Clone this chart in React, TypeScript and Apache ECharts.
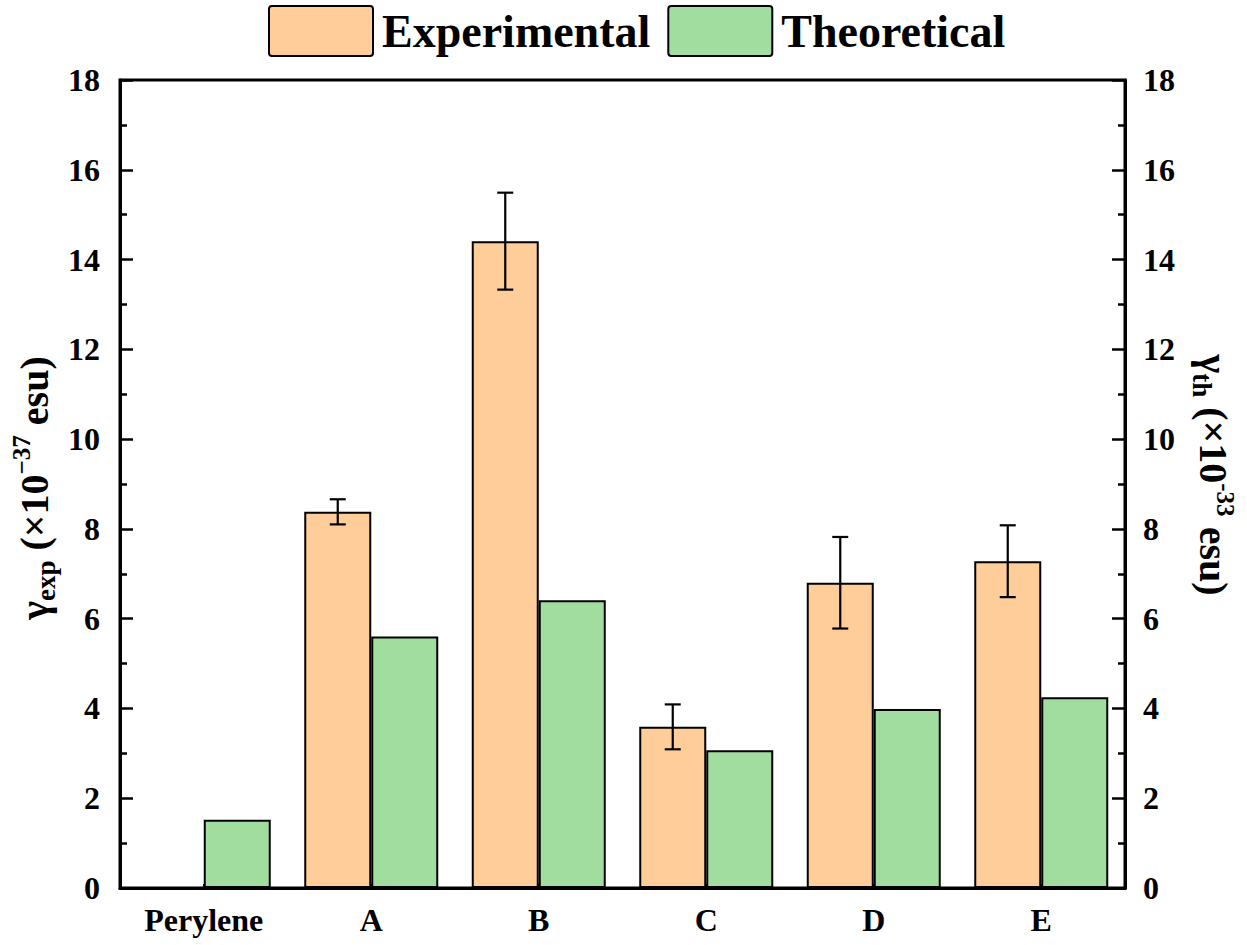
import React, { useEffect, useRef } from "react";
import * as echarts from "echarts";

const categories = ["Perylene", "A", "B", "C", "D", "E"];
const experimental = [null, 8.38, 14.41, 3.59, 6.8, 7.28];
const experimentalErr = [null, 0.28, 1.08, 0.5, 1.02, 0.8];
const theoretical = [1.52, 5.6, 6.41, 3.07, 3.99, 4.25];
const yTicks = { min: 0, max: 18, interval: 2 };

const FONT = "'Liberation Serif', 'Times New Roman', serif";

export default function App() {
  const ref = useRef<HTMLDivElement>(null);

  useEffect(() => {
    document.body.style.margin = "0";
    const chart = echarts.init(ref.current!, null, { renderer: "svg" });

    const errData = categories
      .map((_, i) =>
        experimental[i] == null || experimentalErr[i] == null
          ? null
          : [i, (experimental[i] as number) - (experimentalErr[i] as number), (experimental[i] as number) + (experimentalErr[i] as number)]
      )
      .filter((d) => d !== null);

    const yAxisCommon = (pos: "left" | "right") => ({
      type: "value",
      position: pos,
      min: yTicks.min,
      max: yTicks.max,
      interval: yTicks.interval,
      axisLine: { show: true, lineStyle: { color: "#000", width: 3 } },
      axisTick: { show: true, inside: true, length: 13, lineStyle: { color: "#000", width: 2.5 } },
      minorTick: { show: true, splitNumber: 2, length: 7, lineStyle: { color: "#000", width: 2.5 } },
      splitLine: { show: false },
      axisLabel: {
        color: "#000",
        fontFamily: FONT,
        fontWeight: "bold",
        fontSize: 32,
        margin: pos === "left" ? 20 : 18,
      },
    });

    const titleRich = {
      m: { fontFamily: FONT, fontWeight: "bold", fontSize: 40, lineHeight: 50, color: "#000" },
      sub: { fontFamily: FONT, fontWeight: "bold", fontSize: 27, lineHeight: 27, verticalAlign: "bottom", color: "#000" },
      sup: { fontFamily: FONT, fontWeight: "bold", fontSize: 25, lineHeight: 25, verticalAlign: "top", color: "#000" },
    };

    const boxIcon = "path://M3,0 H101 Q104,0 104,3 V47 Q104,50 101,50 H3 Q0,50 0,47 V3 Q0,0 3,0 Z";

    chart.setOption({
      animation: false,
      backgroundColor: "#fff",
      legend: {
        left: 268,
        top: 5,
        padding: 0,
        itemWidth: 104,
        itemHeight: 50,
        itemGap: 17,
        textStyle: { fontFamily: FONT, fontWeight: "bold", fontSize: 46, color: "#000", padding: [0, 0, 0, 4] },
        data: [
          { name: "Experimental", icon: boxIcon },
          { name: "Theoretical", icon: boxIcon },
        ],
      },
      grid: {
        left: 120,
        right: 122,
        top: 80,
        bottom: 57,
        show: true,
        borderColor: "#000",
        borderWidth: 3,
        containLabel: false,
      },
      xAxis: {
        type: "category",
        data: categories,
        axisLine: { show: true, lineStyle: { color: "#000", width: 3 } },
        axisTick: { show: true, inside: true, length: 4, alignWithLabel: true, lineStyle: { color: "#000", width: 2 } },
        axisLabel: { color: "#000", fontFamily: FONT, fontWeight: "bold", fontSize: 32, margin: 16 },
      },
      yAxis: [yAxisCommon("left"), yAxisCommon("right")],
      graphic: [
        {
          type: "text",
          x: 34,
          y: 488,
          rotation: Math.PI / 2,
          style: {
            text: "{m|γ}{sub|exp}{m| (×10}{sup|−37}{m| esu)}",
            rich: titleRich,
            align: "center",
            verticalAlign: "middle",
          },
        },
        {
          type: "text",
          x: 1213,
          y: 475,
          rotation: -Math.PI / 2,
          style: {
            text: "{m|γ}{sub|th}{m| (×10}{sup|-33}{m| esu)}",
            rich: titleRich,
            align: "center",
            verticalAlign: "middle",
          },
        },
      ],
      series: [
        {
          name: "Experimental",
          type: "bar",
          yAxisIndex: 0,
          data: experimental.map((v) => (v == null ? "-" : v)),
          barWidth: "40%",
          barGap: "0%",
          itemStyle: { color: "#FECD9A", borderColor: "#000", borderWidth: 2 },
        },
        {
          name: "Theoretical",
          type: "bar",
          yAxisIndex: 1,
          data: theoretical,
          barWidth: "40%",
          barGap: "0%",
          itemStyle: { color: "#A2DDA0", borderColor: "#000", borderWidth: 2 },
        },
        {
          name: "err",
          type: "custom",
          yAxisIndex: 0,
          z: 10,
          data: errData,
          renderItem: (params: any, api: any) => {
            const idx = api.value(0);
            const lo = api.coord([idx, api.value(1)]);
            const hi = api.coord([idx, api.value(2)]);
            const bw = api.size([1, 0])[0];
            const cx = lo[0] - bw * 0.2;
            const cap = 8;
            const style = { stroke: "#000", lineWidth: 2.2 };
            return {
              type: "group",
              children: [
                { type: "line", shape: { x1: cx, y1: lo[1], x2: cx, y2: hi[1] }, style },
                { type: "line", shape: { x1: cx - cap, y1: lo[1], x2: cx + cap, y2: lo[1] }, style },
                { type: "line", shape: { x1: cx - cap, y1: hi[1], x2: cx + cap, y2: hi[1] }, style },
              ],
            };
          },
        },
      ],
    });

    return () => chart.dispose();
  }, []);

  return <div ref={ref} style={{ position: "absolute", left: 0, top: 0, width: 1247, height: 945 }} />;
}
